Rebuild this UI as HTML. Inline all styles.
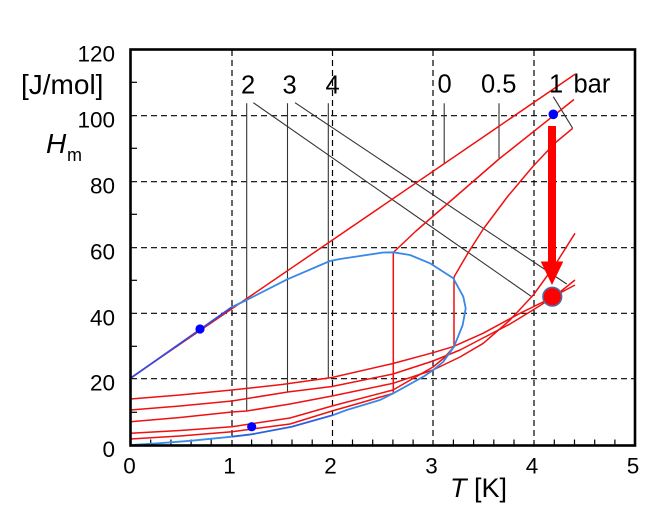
<!DOCTYPE html>
<html><head><meta charset="utf-8"><style>
html,body{margin:0;padding:0;background:#fff;}
svg{display:block;}
text{font-family:"Liberation Sans",Arial,sans-serif;fill:#000;}
</style></head><body>
<svg width="671" height="525" viewBox="0 0 671 525" xmlns="http://www.w3.org/2000/svg">
<rect width="671" height="525" fill="#fff"/>
<!-- grid -->
<g stroke="#000" stroke-width="1.2" stroke-dasharray="6,4" fill="none">
<line x1="232" y1="50" x2="232" y2="445"/>
<line x1="332.5" y1="50" x2="332.5" y2="445"/>
<line x1="433" y1="50" x2="433" y2="445"/>
<line x1="534" y1="50" x2="534" y2="445"/>
<line x1="131" y1="378.7" x2="635" y2="378.7"/>
<line x1="131" y1="313.3" x2="635" y2="313.3"/>
<line x1="131" y1="247.7" x2="635" y2="247.7"/>
<line x1="131" y1="181.7" x2="635" y2="181.7"/>
<line x1="131" y1="115.7" x2="635" y2="115.7"/>
</g>
<!-- minor ticks -->
<g stroke="#000" stroke-width="1.2">
<line x1="131" y1="412.3" x2="137" y2="412.3"/>
<line x1="131" y1="346.3" x2="137" y2="346.3"/>
<line x1="131" y1="280.3" x2="137" y2="280.3"/>
<line x1="131" y1="214.3" x2="137" y2="214.3"/>
<line x1="131" y1="148.3" x2="137" y2="148.3"/>
<line x1="131" y1="82.3" x2="137" y2="82.3"/>
<line x1="150.7" y1="445" x2="150.7" y2="439.5"/>
<line x1="170.9" y1="445" x2="170.9" y2="439.5"/>
<line x1="191.1" y1="445" x2="191.1" y2="439.5"/>
<line x1="211.2" y1="445" x2="211.2" y2="439.5"/>
<line x1="251.6" y1="445" x2="251.6" y2="439.5"/>
<line x1="271.8" y1="445" x2="271.8" y2="439.5"/>
<line x1="292" y1="445" x2="292" y2="439.5"/>
<line x1="312.2" y1="445" x2="312.2" y2="439.5"/>
<line x1="352.5" y1="445" x2="352.5" y2="439.5"/>
<line x1="372.7" y1="445" x2="372.7" y2="439.5"/>
<line x1="392.9" y1="445" x2="392.9" y2="439.5"/>
<line x1="413.1" y1="445" x2="413.1" y2="439.5"/>
<line x1="453.4" y1="445" x2="453.4" y2="439.5"/>
<line x1="473.6" y1="445" x2="473.6" y2="439.5"/>
<line x1="493.8" y1="445" x2="493.8" y2="439.5"/>
<line x1="514" y1="445" x2="514" y2="439.5"/>
<line x1="554.3" y1="445" x2="554.3" y2="439.5"/>
<line x1="574.5" y1="445" x2="574.5" y2="439.5"/>
<line x1="594.7" y1="445" x2="594.7" y2="439.5"/>
<line x1="614.9" y1="445" x2="614.9" y2="439.5"/>
</g>
<!-- black leader lines -->
<g stroke="#333" stroke-width="1.1" fill="none">
<line x1="246.7" y1="103.3" x2="246.7" y2="411"/>
<line x1="287.5" y1="103.3" x2="287.5" y2="391.7"/>
<line x1="328.3" y1="103.3" x2="328.3" y2="378.3"/>
<line x1="253.3" y1="102.7" x2="531.7" y2="296.7"/>
<line x1="295" y1="102.7" x2="566.7" y2="284"/>
<line x1="444.2" y1="103.3" x2="444.2" y2="163.5"/>
<line x1="499" y1="103.3" x2="499" y2="158"/>
<line x1="553.3" y1="96.7" x2="572.7" y2="128.3"/>
</g>
<!-- red isobars -->
<g stroke="#f01010" stroke-width="1.5" fill="none" stroke-linejoin="round">
<polyline points="130.5,378 575,74.3"/>
<polyline points="393.3,252.5 416,231 499,159 574,99.5"/>
<polyline points="454,277 468,253 483.3,229 508,196 533.3,166 555,143 572.7,128.3"/>
<polyline points="130.5,399 180,395 232,390 282,384.5 332,377.5 393,363.5 433,352.7 453,346.7 483,333.3 520,313.3 545,301 575,285"/>
<polyline points="130.5,410 180,406 232,401 287.7,392 332,386.5 393,374 433,361 460,350 483,338 510,324 533,310 555,296 575,280"/>
<polyline points="130.5,421.7 180,417.5 232,412 246.7,411 290,404 332,396 393,383.3 433,370 460,357 483.3,343.3 510,320 533.3,295 555,265 575,233.3"/>
<polyline points="130.5,433.3 180,430.5 232,426.7 290,418 332,406 393,390 433,367 444,358 454,346.7 454,277"/>
<polyline points="130.5,439 180,436 232,431.7 290,424 332,411 360,403 393.3,393.3 393.3,252.5"/>
</g>
<!-- blue dome -->
<polyline fill="none" stroke="#3a88e6" stroke-width="1.8" stroke-linejoin="round" points="232,307 246.7,300 287.3,279.3 330,261 340,259 383.3,252.5 393.3,252.3 410,255 430,263.3 453.3,278.3 463.3,296.7 465.7,308.3 462.7,325 454,346.7 443.3,361.7 433.3,370 423.3,376.7 393.3,393.3 380,400 346.7,410 333.3,415"/>
<polyline fill="none" stroke="#2a62dc" stroke-width="1.8" stroke-linejoin="round" points="333.3,415 291.7,426.7 251.7,434.3 231.7,436.7"/>
<polyline fill="none" stroke="#3a8ee8" stroke-width="1.8" stroke-linejoin="round" points="231.7,436.7 191.7,440.7 158.3,443.3 130.5,445"/>
<polyline fill="none" stroke="#3848dc" stroke-width="1.8" points="130.5,378.3 232,307"/>
<!-- dots -->
<circle cx="200" cy="329" r="4.6" fill="#0000ff"/>
<circle cx="251.7" cy="426.7" r="4.6" fill="#0000ff"/>
<circle cx="553.3" cy="114.3" r="4.8" fill="#0000ff"/>
<!-- arrow -->
<rect x="548" y="126" width="8" height="137" fill="#ff0000"/>
<polygon points="540.7,261.5 563.3,261.5 552,285" fill="#ff0000"/>
<circle cx="552.3" cy="296.7" r="9.3" fill="#ff0000" stroke="#56689c" stroke-width="1.6"/>
<!-- frame -->
<rect x="130.5" y="49.5" width="504.5" height="396" fill="none" stroke="#000" stroke-width="2.6"/>
<!-- y tick labels -->
<g font-size="22.5" text-anchor="end">
<text x="115" y="457">0</text>
<text x="115" y="390.7">20</text>
<text x="115" y="325.3">40</text>
<text x="115" y="259.7">60</text>
<text x="115" y="193.7">80</text>
<text x="115" y="127.7">100</text>
<text x="115" y="61.3">120</text>
</g>
<!-- x tick labels -->
<g font-size="22.5" text-anchor="middle">
<text x="129.5" y="473.3">0</text>
<text x="229.5" y="473.3">1</text>
<text x="330.5" y="473.3">2</text>
<text x="431.5" y="473.3">3</text>
<text x="532" y="473.3">4</text>
<text x="633" y="473.3">5</text>
</g>
<text x="21" y="94" font-size="28">[J/mol]</text>
<text x="46" y="153" font-size="28" font-style="italic">H</text>
<text x="67" y="161" font-size="18">m</text>
<text x="450" y="497" font-size="27"><tspan font-style="italic">T</tspan> [K]</text>
<!-- isobar labels -->
<g font-size="25.5">
<text x="241" y="93.3">2</text>
<text x="282.5" y="93.3">3</text>
<text x="325.5" y="93.3">4</text>
<text x="437.5" y="92.7">0</text>
<text x="481" y="92.7">0.5</text>
<text x="549" y="92.7">1</text>
<text x="573.5" y="92.7">bar</text>
</g>
</svg>
</body></html>
